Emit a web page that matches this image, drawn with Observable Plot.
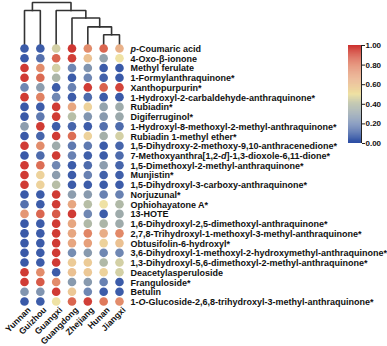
<!DOCTYPE html>
<html>
<head>
<meta charset="utf-8">
<script src="https://cdn.jsdelivr.net/npm/d3@7"></script>
<script src="https://cdn.jsdelivr.net/npm/@observablehq/plot@0.6"></script>
<style>
  html, body { margin: 0; padding: 0; background: #fff; }
  #fig { position: relative; width: 387px; height: 346px; overflow: hidden; font-family: "Liberation Sans", Arial, sans-serif; }
  #fig svg { position: absolute; font-family: "Liberation Sans", Arial, sans-serif; }
</style>
</head>
<body>
<div id="fig"></div>
<script>
const regions = ["Yunnan", "Guizhou", "Guangxi", "Guangdong", "Zhejiang", "Hunan", "Jiangxi"];
const compounds = [
  "p-Coumaric acid",
  "4-Oxo-β-ionone",
  "Methyl ferulate",
  "1-Formylanthraquinone*",
  "Xanthopurpurin*",
  "1-Hydroxyl-2-carbaldehyde-anthraquinone*",
  "Rubiadin*",
  "Digiferruginol*",
  "1-Hydroxyl-8-methoxyl-2-methyl-anthraquinone*",
  "Rubiadin 1-methyl ether*",
  "1,5-Dihydroxy-2-methoxy-9,10-anthracenedione*",
  "7-Methoxyanthra[1,2-d]-1,3-dioxole-6,11-dione*",
  "1,5-Dimethoxyl-2-methyl-anthraquinone*",
  "Munjistin*",
  "1,5-Dihydroxyl-3-carboxy-anthraquinone*",
  "Norjuzunal*",
  "Ophiohayatone A*",
  "13-HOTE",
  "1,6-Dihydroxyl-2,5-dimethoxyl-anthraquinone*",
  "2,7,8-Trihydroxyl-1-methoxyl-3-methyl-anthraquinone*",
  "Obtusifolin-6-hydroxyl*",
  "3,6-Dihydroxyl-1-methoxyl-2-hydroxymethyl-anthraquinone*",
  "1,3-Dihydroxyl-5,6-dimethoxyl-2-methyl-anthraquinone*",
  "Deacetylasperuloside",
  "Franguloside*",
  "Betulin",
  "1-O-Glucoside-2,6,8-trihydroxyl-3-methyl-anthraquinone*"
];
// italic segments [compound, start, end]
const italics = [
  ["p-Coumaric acid", 0, 1],
  ["7-Methoxyanthra[1,2-d]-1,3-dioxole-6,11-dione*", 20, 21],
  ["1-O-Glucoside-2,6,8-trihydroxyl-3-methyl-anthraquinone*", 2, 3]
];

// normalized values per region (one per compound, top to bottom)
const yunnan    = [0.05,0.04,0.96,0.96,0.20,0.96,0.04,0.04,0.28,0.04,0.96,0.04,0.96,0.96,0.96,0.04,0.12,0.72,0.04,0.04,0.04,0.04,0.04,0.96,0.96,0.25,0.04];
const guizhou   = [0.05,0.12,0.75,0.84,0.28,0.78,0.05,0.15,0.96,0.08,0.75,0.10,0.83,0.55,0.55,0.05,0.05,0.85,0.05,0.05,0.05,0.05,0.05,0.75,0.88,0.25,0.05];
const guangxi   = [0.45,0.85,0.45,0.37,0.05,0.20,0.96,0.96,0.05,0.96,0.33,0.96,0.20,0.28,0.40,0.96,0.96,0.88,0.96,0.96,0.96,0.96,0.96,0.05,0.75,0.96,0.50];
const guangdong = [0.97,0.95,0.20,0.05,0.18,0.05,0.68,0.40,0.08,0.83,0.15,0.18,0.05,0.05,0.05,0.28,0.68,0.96,0.68,0.68,0.68,0.22,0.57,0.60,0.27,0.58,0.85];
const zhejiang  = [0.75,0.60,0.25,0.20,0.96,0.10,0.55,0.25,0.05,0.55,0.15,0.06,0.10,0.18,0.05,0.27,0.40,0.20,0.38,0.77,0.70,0.27,0.57,0.58,0.27,0.20,0.95];
const hunan     = [0.85,0.30,0.05,0.07,0.86,0.05,0.30,0.27,0.12,0.35,0.05,0.05,0.28,0.07,0.05,0.18,0.50,0.05,0.37,0.66,0.55,0.20,0.38,0.55,0.18,0.05,0.80];
const jiangxi   = [0.65,0.50,0.04,0.04,0.94,0.04,0.33,0.32,0.10,0.45,0.08,0.10,0.08,0.06,0.05,0.18,0.38,0.33,0.33,0.76,0.60,0.20,0.45,0.45,0.05,0.05,0.75];
const series = [yunnan, guizhou, guangxi, guangdong, zhejiang, hunan, jiangxi];

// dendrogram merges: [childA, childB, height]; leaves 0..6, new nodes 7..
const merges = [
  [5, 6, 0.23],
  [4, 7, 0.42],
  [3, 8, 0.63],
  [2, 9, 0.81],
  [0, 1, 0.81],
  [11, 10, 1.00]
];

const legendTicks = [0, 0.2, 0.4, 0.6, 0.8, 1.0];

const colorScale = {
  type: "linear",
  domain: [0, 0.2, 0.4, 0.5, 0.65, 0.8, 1],
  range: ["#2b4ea5", "#6f87b3", "#b7bea6", "#efe2a4", "#e9b189", "#df7a5c", "#cc2b2a"],
  interpolate: "rgb"
};

// build tables
const cells = [];
series.forEach((vals, j) => vals.forEach((v, i) => cells.push({col: j, row: i, value: v})));

const nodeX = regions.map((_, i) => i);
const nodeH = regions.map(() => 0);
const dendroSegs = [];
merges.forEach(([a, b, h], k) => {
  const pts = [[nodeX[a], nodeH[a]], [nodeX[a], h], [nodeX[b], h], [nodeX[b], nodeH[b]]];
  pts.forEach(([x, hh]) => dendroSegs.push({id: k, x, h: hh}));
  nodeX.push((nodeX[a] + nodeX[b]) / 2);
  nodeH.push(h);
});
const dendY = h => -0.42 - h * 4.3;

const fig = document.getElementById("fig");

const main = Plot.plot({
  width: 387,
  height: 346,
  margin: 0,
  x: {type: "linear", domain: [-1.516, 22.93], range: [0, 387], axis: null},
  y: {type: "linear", domain: [-4.933, 30.627], range: [0, 346], axis: null},
  color: colorScale,
  style: {fontFamily: "Liberation Sans, Arial, sans-serif", background: "transparent"},
  marks: [
    Plot.line(dendroSegs, {x: "x", y: d => dendY(d.h), z: "id", stroke: "#333", strokeWidth: 1.6, strokeLinejoin: "miter", strokeLinecap: "square"}),
    Plot.dot(cells, {x: "col", y: "row", r: 4.3, fill: "value", stroke: null}),
    Plot.text(compounds, {x: 6.69, y: (d, i) => i, text: d => d, textAnchor: "start", fontSize: 9.0, fontWeight: "bold", fill: "#111", dy: 0.6}),
    Plot.text(regions, {x: (d, i) => i + 0.3, y: 26.72, text: d => d, textAnchor: "end", rotate: -45, fontSize: 8.7, fontWeight: "bold", fill: "#111"})
  ]
});
main.style.left = "0px";
main.style.top = "0px";
fig.appendChild(main);

// italic parts
main.querySelectorAll("text").forEach(t => {
  const s = t.textContent;
  const it = italics.find(d => d[0] === s);
  if (!it) return;
  while (t.firstChild) t.removeChild(t.firstChild);
  const ns = "http://www.w3.org/2000/svg";
  const parts = [[s.slice(0, it[1]), false], [s.slice(it[1], it[2]), true], [s.slice(it[2]), false]];
  parts.forEach(([str, ital]) => {
    if (!str) return;
    const sp = document.createElementNS(ns, "tspan");
    sp.textContent = str;
    if (ital) sp.setAttribute("font-style", "italic");
    t.appendChild(sp);
  });
});

// color legend (vertical)
const steps = d3.range(0, 1, 0.01);
const legend = Plot.plot({
  width: 57,
  height: 112,
  marginLeft: 18,
  marginRight: 26,
  marginTop: 7,
  marginBottom: 7,
  x: {domain: [0, 1], axis: null},
  y: {domain: [0, 1], axis: null},
  color: colorScale,
  style: {fontFamily: "Liberation Sans, Arial, sans-serif", background: "transparent"},
  marks: [
    Plot.rect(steps, {x1: 0, x2: 1, y1: d => d, y2: d => Math.min(1, d + 0.0105), fill: d => d + 0.005}),
    Plot.ruleX([1], {stroke: "#222", strokeWidth: 1}),
    Plot.axisY({anchor: "right", ticks: legendTicks, tickFormat: d3.format(".2f"), tickSize: 3, tickPadding: 1, fontSize: 8, fontWeight: "bold", fill: "#111", stroke: "#222"})
  ]
});
legend.style.left = "330px";
legend.style.top = "38px";
fig.appendChild(legend);
</script>
</body>
</html>
